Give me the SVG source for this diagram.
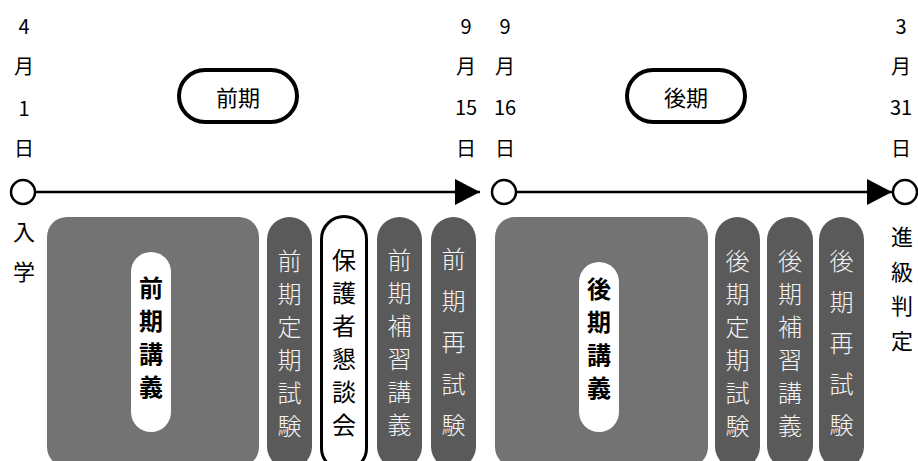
<svg xmlns="http://www.w3.org/2000/svg" width="918" height="461" viewBox="0 0 918 461">
<style>
text{font-family:"Noto Sans CJK JP","Noto Sans",sans-serif}
.d{font-size:20px;fill:#000;text-anchor:middle;dominant-baseline:central}
.lbl{font-size:22px;fill:#000;text-anchor:middle;dominant-baseline:central}
.v{writing-mode:vertical-rl;text-anchor:start}
.vl{font-size:22px;fill:#000}
.big{fill:#737373}
.pill{fill:#5a5a5a}
.ptxt{font-size:24px;fill:#f4f4f4;font-weight:300}
.ktxt{font-size:24px;fill:#000}
.wpill{fill:#fff}
.btxt{font-size:24px;fill:#000;font-weight:bold}
.otl{fill:#fff;stroke:#000;stroke-width:3}
.ttl{fill:#fff;stroke:#000;stroke-width:4}
.circ{fill:#fff;stroke:#000;stroke-width:2.5}
.ln{stroke:#000;stroke-width:2.5;fill:none}
</style>
<defs>
<marker id="ah" viewBox="0 0 25 26" refX="25" refY="13" markerWidth="25" markerHeight="26" markerUnits="userSpaceOnUse" orient="auto">
<path d="M0,0 L25,13 L0,26 Z" fill="#000"/>
</marker>
</defs>

<g id="dates">
<text class="d" x="24" y="25">4</text><text class="d" x="24" y="65">月</text><text class="d" x="24" y="107">1</text><text class="d" x="24" y="147">日</text>
<text class="d" x="466" y="25">9</text><text class="d" x="466" y="65">月</text><text class="d" x="466" y="106">15</text><text class="d" x="466" y="147">日</text>
<text class="d" x="505" y="25">9</text><text class="d" x="505" y="65">月</text><text class="d" x="505" y="106">16</text><text class="d" x="505" y="147">日</text>
<text class="d" x="901" y="25">3</text><text class="d" x="901" y="65">月</text><text class="d" x="901" y="106">31</text><text class="d" x="901" y="147">日</text>
</g>

<g id="zenki-title">
<rect class="ttl" x="179" y="70" width="118" height="52" rx="26"/>
<text class="lbl" x="238" y="96">前期</text>
</g>
<g id="kouki-title">
<rect class="ttl" x="627" y="70" width="118" height="52" rx="26"/>
<text class="lbl" x="686" y="96">後期</text>
</g>

<g id="connectors">
<line class="ln" x1="35" y1="192" x2="480" y2="192" marker-end="url(#ah)"/>
<line class="ln" x1="516" y1="192" x2="892" y2="192" marker-end="url(#ah)"/>
</g>

<g id="start"><circle class="circ" cx="23" cy="192" r="12"/></g>
<g id="mid"><circle class="circ" cx="504" cy="192" r="12"/></g>
<g id="end"><circle class="circ" cx="905" cy="192" r="12"/></g>

<g id="nyugaku">
<text class="v vl" x="24" y="221" letter-spacing="18">入学</text>
</g>
<g id="shinkyu">
<text class="v vl" x="902" y="226" font-size="21" letter-spacing="12.5">進級判定</text>
</g>

<g id="zenki-kougi">
<rect class="big" x="47" y="217" width="212" height="250" rx="20"/>
<rect class="wpill" x="131" y="252" width="40" height="180" rx="20"/>
<text class="v btxt" x="151" y="276" letter-spacing="9">前期講義</text>
</g>
<g id="zenki-teiki">
<rect class="pill" x="267" y="217" width="45" height="252" rx="22.5"/>
<text class="v ptxt" x="289.5" y="249" letter-spacing="9">前期定期試験</text>
</g>
<g id="hogosha">
<rect class="otl" x="321.5" y="216.5" width="45" height="254" rx="22.5"/>
<text class="v ktxt" x="344" y="248" letter-spacing="9">保護者懇談会</text>
</g>
<g id="zenki-hoshu">
<rect class="pill" x="377" y="217" width="45" height="252" rx="22.5"/>
<text class="v ptxt" x="399.5" y="248" letter-spacing="9">前期補習講義</text>
</g>
<g id="zenki-sai">
<rect class="pill" x="431" y="217" width="45" height="252" rx="22.5"/>
<text class="v ptxt" x="453.5" y="247" letter-spacing="17.5">前期再試験</text>
</g>

<g id="kouki-kougi">
<rect class="big" x="495" y="217" width="213" height="250" rx="20"/>
<rect class="wpill" x="579" y="262" width="40" height="170" rx="20"/>
<text class="v btxt" x="599" y="277" letter-spacing="9">後期講義</text>
</g>
<g id="kouki-teiki">
<rect class="pill" x="715" y="217" width="45" height="252" rx="22.5"/>
<text class="v ptxt" x="737.5" y="249" letter-spacing="9">後期定期試験</text>
</g>
<g id="kouki-hoshu">
<rect class="pill" x="767" y="217" width="46" height="252" rx="23"/>
<text class="v ptxt" x="790" y="249" letter-spacing="9">後期補習講義</text>
</g>
<g id="kouki-sai">
<rect class="pill" x="819" y="217" width="45" height="252" rx="22.5"/>
<text class="v ptxt" x="841.5" y="249" letter-spacing="17">後期再試験</text>
</g>
</svg>
